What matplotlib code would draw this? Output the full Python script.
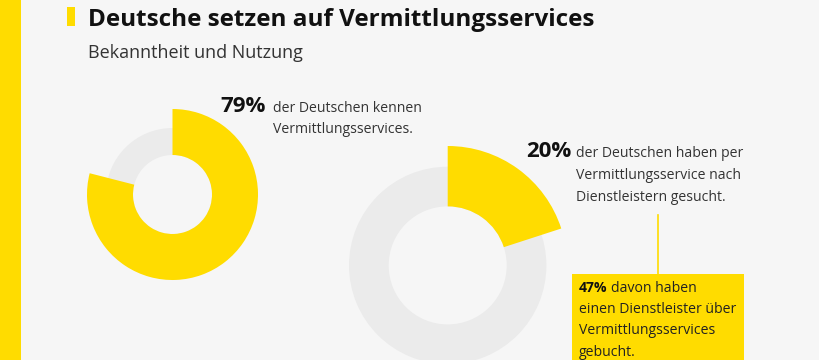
import matplotlib
matplotlib.use("Agg")
import matplotlib.pyplot as plt
from matplotlib.patches import Rectangle

plt.rcParams["font.family"] = ["Open Sans", "DejaVu Sans"]

# data
known_share = [79, 21]        # kennen / kennen nicht
searched_share = [20, 80]     # gesucht / nicht gesucht
booked_share = 47             # davon gebucht

TITLE = "Deutsche setzen auf Vermittlungsservices"
SUBTITLE = "Bekanntheit und Nutzung"

YELLOW = "#ffdc00"
RING = "#ebebeb"
BG = "#f6f6f6"
TXT = "#333333"

W, H = 820, 360
fig = plt.figure(figsize=(W / 100, H / 100), dpi=100, facecolor=BG)
ax = fig.add_axes([0, 0, 1, 1])
ax.set_facecolor(BG)


def Y(y):
    return H - y


def donut(cx, cy, r_out, r_ring, r_in, shares):
    c = (cx, Y(cy))
    ax.pie([100], radius=r_ring, center=c, colors=[RING],
           wedgeprops=dict(width=r_ring - r_in, linewidth=0))
    ax.pie(shares, radius=r_out, center=c, startangle=90, counterclock=False,
           colors=[YELLOW, "none"], wedgeprops=dict(width=r_out - r_in, linewidth=0))


donut(172.5, 194.5, 85.5, 66.5, 39.5, known_share)
donut(447.7, 265.4, 119.4, 98.7, 59, searched_share)

# left bar and title marker
ax.add_patch(Rectangle((0, 0), 21, H, color=YELLOW, lw=0))
ax.add_patch(Rectangle((67, Y(26)), 8, 19, color=YELLOW, lw=0))

ax.text(88, Y(26), TITLE, fontsize=17.5, fontweight="bold", color="#111111", va="baseline")
ax.text(88, Y(58), SUBTITLE, fontsize=13, color=TXT, va="baseline")

BODY = 10.1

# annotation 1
ax.text(266, Y(112), f"{known_share[0]}%", fontsize=16, fontweight="bold",
        color="#111111", va="baseline", ha="right")
ax.text(273, Y(112), "der Deutschen kennen", fontsize=BODY, color=TXT, va="baseline")
ax.text(273, Y(133), "Vermittlungsservices.", fontsize=BODY, color=TXT, va="baseline")

# annotation 2
ax.text(571, Y(157), f"{searched_share[0]}%", fontsize=16, fontweight="bold",
        color="#111111", va="baseline", ha="right")
for i, line in enumerate(["der Deutschen haben per", "Vermittlungsservice nach",
                          "Dienstleistern gesucht."]):
    ax.text(576, Y(157 + 22 * i), line, fontsize=BODY, color=TXT, va="baseline")

# connector + box
ax.plot([657.7, 657.7], [Y(215), Y(274)], color=YELLOW, lw=1.2)
ax.add_patch(Rectangle((571.7, 0), 744 - 571.7, Y(274), color=YELLOW, lw=0))
ax.text(579, Y(292), f"{booked_share}%", fontsize=BODY, fontweight="bold",
        color="#111111", va="baseline")
ax.text(611, Y(292), "davon haben", fontsize=BODY, color="#222222", va="baseline")
for i, line in enumerate(["einen Dienstleister über", "Vermittlungsservices", "gebucht."]):
    ax.text(579, Y(313 + 21.5 * i), line, fontsize=BODY, color="#222222", va="baseline")

ax.set_xlim(0, W)
ax.set_ylim(0, H)
ax.set_aspect("auto")
ax.axis("off")

fig.savefig("out.png", dpi=100, facecolor=BG)
